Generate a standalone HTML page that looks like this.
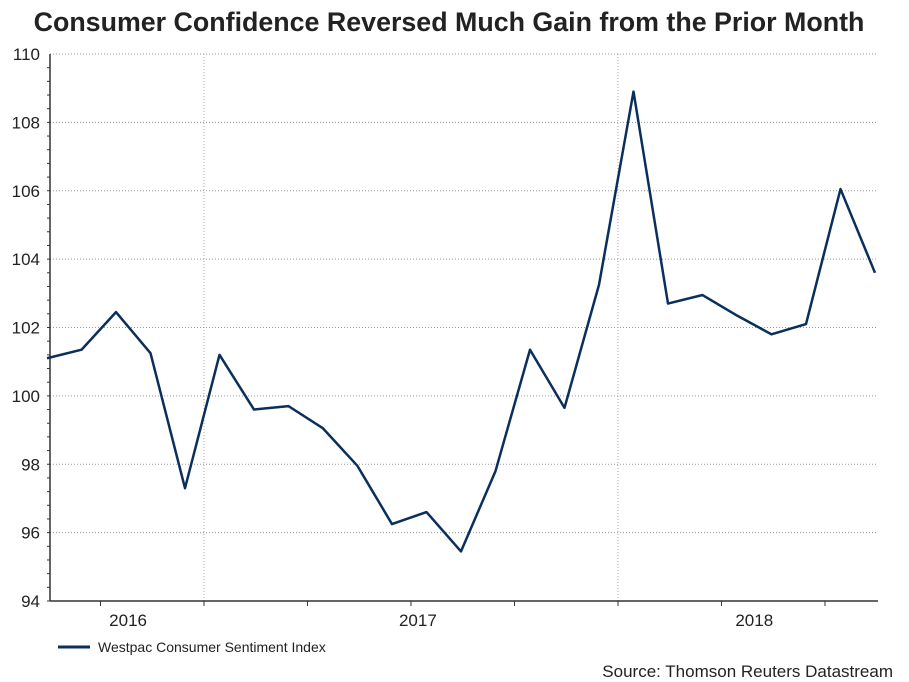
<!DOCTYPE html>
<html><head><meta charset="utf-8"><style>
body{margin:0;background:#fff;font-family:"Liberation Sans",Arial,sans-serif}
svg{display:block}
</style></head><body>
<svg width="909" height="682">
<text x="449" y="31" text-anchor="middle" font-size="26.8" font-weight="bold" fill="#222">Consumer Confidence Reversed Much Gain from the Prior Month</text>
<g id="grid"></g>
<g id="axes"></g>
<polyline id="line" fill="none" stroke="#0a2f5c" stroke-width="2.5" stroke-linejoin="round"/>
<line x1="58" y1="647" x2="90" y2="647" stroke="#0a2f5c" stroke-width="3"/>
<text x="98" y="652" font-size="14" fill="#222">Westpac Consumer Sentiment Index</text>
<text x="893" y="677" text-anchor="end" font-size="17" fill="#222">Source: Thomson Reuters Datastream</text>
</svg>
<script>
const values=[101.1,101.35,102.45,101.25,97.3,101.2,99.6,99.7,99.05,97.95,96.25,96.6,95.45,97.8,101.35,99.65,103.25,108.9,102.7,102.95,102.35,101.8,102.1,106.05,103.6];
const yTicks=[94,96,98,100,102,104,106,108,110];
const years=["2016","2017","2018"];
const yearPos=[2.35,10.75,20.5];
const yearGrid=[4.55,16.55];
const NS="http://www.w3.org/2000/svg";
const X0=47,DX=34.5,Y0=601,Y1=54,L=50,R=878;
const xs=i=>X0+i*DX;
const ys=v=>Y0-(v-94)/(110-94)*(Y0-Y1);
function mk(t,a,p){const e=document.createElementNS(NS,t);for(const k in a)e.setAttribute(k,a[k]);p.appendChild(e);return e;}
const grid=document.getElementById('grid'),axes=document.getElementById('axes');
yTicks.forEach(v=>{
 if(v>94){const g=mk('line',{x1:L,x2:R,y1:ys(v),y2:ys(v),stroke:'#999','stroke-dasharray':'1,2'},grid);
 
 }
 const t=mk('text',{x:40,y:ys(v)+6,'text-anchor':'end','font-size':17,fill:'#222'},axes);t.textContent=v;
 
 
});
for(let v=94;v<110;v+=0.4){mk('line',{x1:L-3,x2:L,y1:ys(v),y2:ys(v),stroke:'#333'},axes);}
yearGrid.forEach(m=>{const g=mk('line',{x1:xs(m),x2:xs(m),y1:Y1,y2:Y0,stroke:'#b9a',"stroke-dasharray":'1,2'},grid);
 
 });
for(let m=1.55;xs(m)<R;m+=3){mk('line',{x1:xs(m),x2:xs(m),y1:Y0,y2:Y0+5,stroke:'#333'},axes);}
mk('line',{x1:L,x2:L,y1:Y1,y2:Y0,stroke:'#333','stroke-width':1.5},axes);
mk('line',{x1:L,x2:R,y1:Y0,y2:Y0,stroke:'#333','stroke-width':1.5},axes);
years.forEach((y,i)=>{const t=mk('text',{x:xs(yearPos[i]),y:626,'text-anchor':'middle','font-size':17,fill:'#222'},axes);t.textContent=y;
 
 });
document.getElementById('line').setAttribute('points',values.map((v,i)=>xs(i)+','+ys(v)).join(' '));
</script>
</body></html>
